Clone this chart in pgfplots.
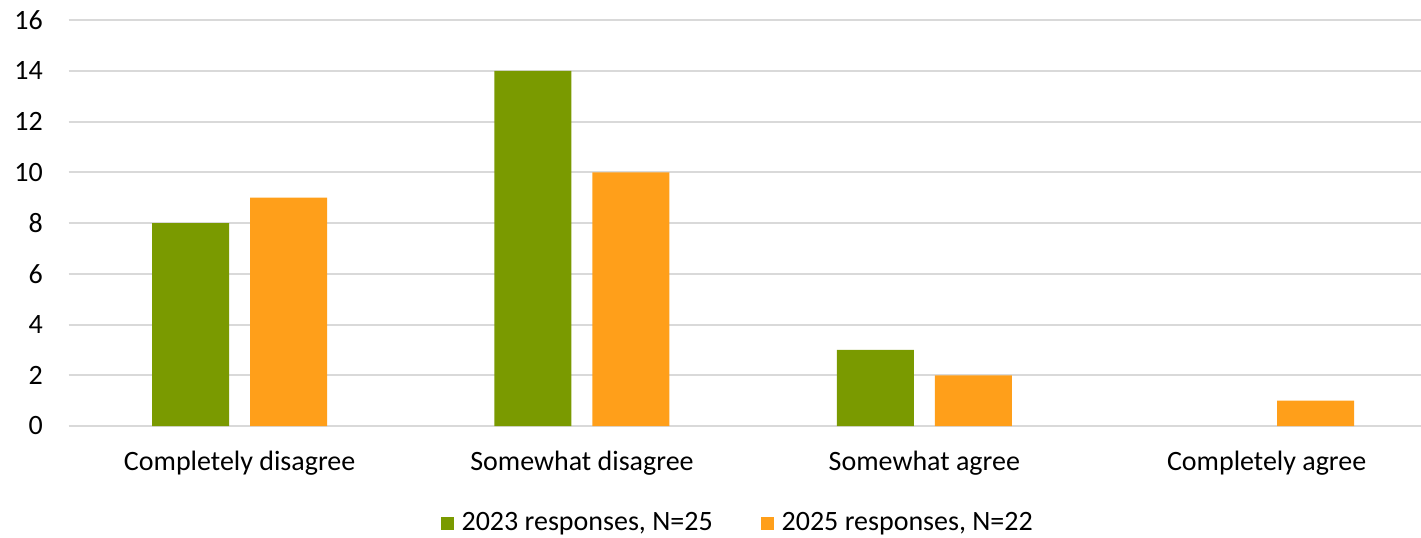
\documentclass[border=0pt]{standalone}
\usepackage{pgfplots}
\pgfplotsset{compat=1.18}
\usepackage{fontspec}
\setmainfont{Carlito}
\definecolor{cgreen}{HTML}{7A9A00}
\definecolor{corange}{HTML}{FF9F1A}
\definecolor{gridgray}{HTML}{D9D9D9}
\begin{document}
\fontsize{14bp}{16.8bp}\selectfont
\begin{tikzpicture}
\useasboundingbox (-34.25bp,-56bp) rectangle (676.25bp,213bp);
\begin{axis}[
  scale only axis, width=676.25bp, height=203bp,
  at={(0,0)}, anchor=south west,
  xmin=-0.5, xmax=3.451, ymin=0, ymax=16,
  ytick={0,2,...,16},
  xtick={0,1,2,3},
  xticklabels={Completely disagree,Somewhat disagree,Somewhat agree,Completely agree},
  ymajorgrids, grid style={draw=gridgray, line width=1bp},
  axis line style={draw=none},
  tick style={draw=none},
  /pgf/number format/assume math mode=true,
  ticklabel style={font=\fontsize{14bp}{16.8bp}\selectfont, text=black},
  yticklabel style={xshift=-8bp},
  xticklabel style={yshift=-3.5bp},
  ybar, bar width=38.5bp,
  legend style={at={(0.4955,-0.239)}, anchor=center, draw=none, fill=none,
    legend columns=2, font=\fontsize{14bp}{16.8bp}\selectfont,
    /tikz/every even column/.append style={column sep=22bp},
    inner sep=0pt},
  legend image code/.code={\fill[#1] (0bp,-3.25bp) rectangle (6.5bp,3.25bp); \path (8.5bp,0bp);},
  legend cell align=left,
]
\addplot[fill=cgreen, draw=none, bar shift=-24.5bp] coordinates {(0,8) (1,14) (2,3)};
\addlegendentry{2023 responses, N=25}
\addplot[fill=corange, draw=none, bar shift=24.5bp] coordinates {(0,9) (1,10) (2,2) (3,1)};
\addlegendentry{2025 responses, N=22}
\end{axis}
\end{tikzpicture}
\end{document}
